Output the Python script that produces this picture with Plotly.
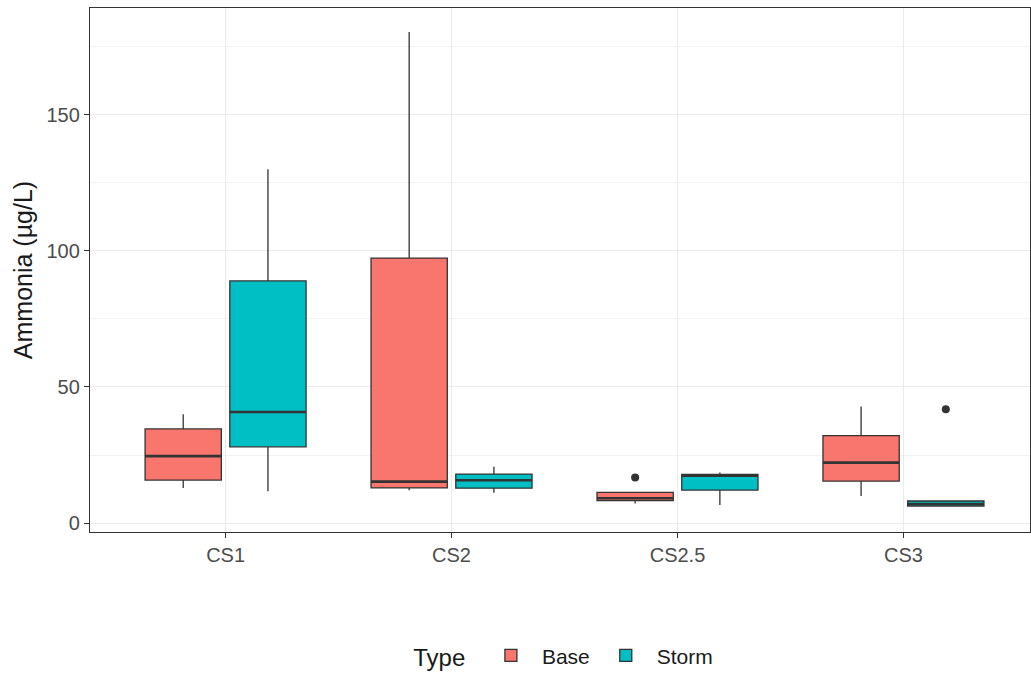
import plotly.graph_objects as go

# Sites on the x axis and the two sampling types
sites = ["CS1", "CS2", "CS2.5", "CS3"]
types = ["Base", "Storm"]

# Box summary statistics (µg/L) per type, one value per site
base_lower = [12.9, 12.0, 7.2, 9.9]
base_q1 = [15.8, 12.9, 8.2, 15.4]
base_median = [24.6, 15.2, 9.1, 22.2]
base_q3 = [34.6, 97.4, 11.3, 32.1]
base_upper = [40.0, 180.5, 11.3, 42.8]

storm_lower = [11.7, 11.1, 6.6, 6.25]
storm_q1 = [28.0, 12.8, 12.1, 6.25]
storm_median = [40.8, 15.7, 17.4, 7.0]
storm_q3 = [89.0, 18.0, 17.9, 8.1]
storm_upper = [130.0, 20.7, 18.6, 8.1]

# Outlying observations: (site index, type, value)
outlier_site = [2, 3]
outlier_type = ["Base", "Storm"]
outlier_value = [16.7, 41.8]

colors = {"Base": "#F8766D", "Storm": "#00BFC4"}
stats = {
    "Base": (base_lower, base_q1, base_median, base_q3, base_upper),
    "Storm": (storm_lower, storm_q1, storm_median, storm_q3, storm_upper),
}
dodge = {"Base": -0.1875, "Storm": 0.1875}
box_w = 0.3375
edge = "#333333"

fig = go.Figure()
for t in types:
    lo, q1, med, q3, hi = stats[t]
    pos = [i + 1 + dodge[t] for i in range(len(sites))]
    fig.add_trace(go.Box(
        name=t, x=pos, lowerfence=lo, q1=q1, median=med, q3=q3, upperfence=hi,
        width=box_w, whiskerwidth=0, fillcolor=colors[t],
        line=dict(color=edge, width=1.3), boxpoints=False,
        legendgroup=t, showlegend=True,
    ))
    # thicker median bars, as in the classic boxplot style
    mx, my = [], []
    for p, m in zip(pos, med):
        mx += [p - box_w / 2, p + box_w / 2, None]
        my += [m, m, None]
    fig.add_trace(go.Scatter(
        x=mx, y=my, mode="lines", line=dict(color=edge, width=2.6),
        showlegend=False, hoverinfo="skip", legendgroup=t,
    ))

fig.add_trace(go.Scatter(
    x=[s + 1 + dodge[t] for s, t in zip(outlier_site, outlier_type)],
    y=outlier_value, mode="markers",
    marker=dict(color=edge, size=8), showlegend=False,
))

fig.update_layout(
    width=1031, height=673,
    paper_bgcolor="white", plot_bgcolor="white",
    margin=dict(l=90, r=1, t=8, b=141, autoexpand=False),
    font=dict(family="Liberation Sans, Arial, sans-serif", color="#1a1a1a"),
    showlegend=True,
    legend=dict(
        orientation="h", x=0.505, xanchor="center",
        yref="container", y=0.025, yanchor="middle",
        title=dict(text="Type ", font=dict(size=24, color="#1a1a1a")),
        font=dict(size=21, color="#1a1a1a"),
        itemwidth=52,
    ),
)

fig.update_xaxes(
    range=[0.4, 4.56], tickmode="array",
    tickvals=list(range(1, len(sites) + 1)), ticktext=sites,
    showgrid=True, gridcolor="#EBEBEB", gridwidth=1.2,
    zeroline=False, showline=True, linecolor="#333333", linewidth=1.3, mirror=True,
    ticks="outside", ticklen=5, tickcolor="#333333",
    tickfont=dict(size=20, color="#4d4d4d"),
)
fig.update_yaxes(
    range=[-3.3, 189.3], tickmode="array", tickvals=[0, 50, 100, 150],
    showgrid=True, gridcolor="#EBEBEB", gridwidth=1.2,
    minor=dict(tickvals=[25, 75, 125, 175], showgrid=True,
               gridcolor="#F2F2F2", gridwidth=0.8),
    zeroline=False, showline=True, linecolor="#333333", linewidth=1.3, mirror=True,
    ticks="outside", ticklen=5, tickcolor="#333333",
    tickfont=dict(size=20, color="#4d4d4d"),
    title=dict(text="Ammonia (µg/L)", font=dict(size=25, color="#1a1a1a"), standoff=6),
)

fig.write_html("out.html")
